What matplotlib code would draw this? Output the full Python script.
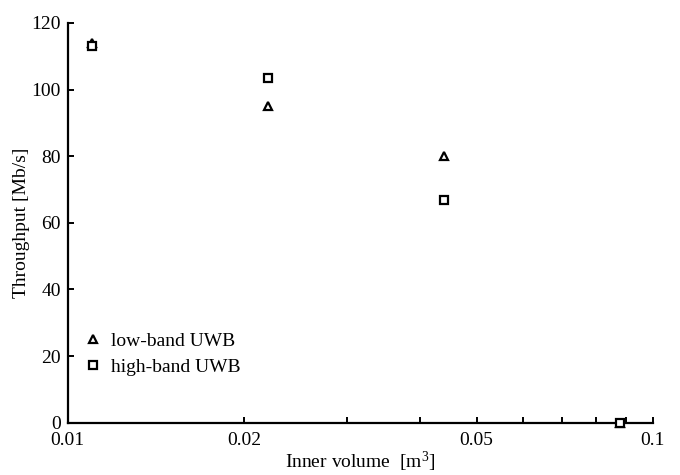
import matplotlib
matplotlib.use("Agg")
import matplotlib.pyplot as plt
from matplotlib.ticker import FixedLocator, FixedFormatter, NullFormatter

plt.rcParams['font.family'] = ['Liberation Serif', 'DejaVu Serif']
plt.rcParams['mathtext.fontset'] = 'custom'
plt.rcParams['mathtext.rm'] = 'Liberation Serif'
plt.rcParams['mathtext.it'] = 'Liberation Serif:italic'

# Measured throughput versus inner volume
volume = [0.011, 0.022, 0.044, 0.088]
low_band = [114, 95, 80, 0]
high_band = [113, 103.5, 67, 0]

x_major = [0.01, 0.02, 0.05, 0.1]
x_major_labels = ['0.01', '0.02', '0.05', '0.1']
x_minor = [0.03, 0.04, 0.06, 0.07, 0.08, 0.09]
y_ticks = [0, 20, 40, 60, 80, 100, 120]

fig = plt.figure(figsize=(6.8, 4.75), dpi=100)
ax = fig.add_axes([0.0996, 0.110, 0.8604, 0.8416])

ax.plot(volume, low_band, linestyle='none', marker='^', markersize=6,
        markerfacecolor='white', markeredgecolor='black', markeredgewidth=1.6,
        label='low-band UWB', clip_on=False, zorder=3)
ax.plot(volume, high_band, linestyle='none', marker='s', markersize=5.5,
        markerfacecolor='white', markeredgecolor='black', markeredgewidth=1.6,
        label='high-band UWB', clip_on=False, zorder=3)

ax.set_xscale('log')
ax.set_xlim(0.01, 0.1)
ax.set_ylim(0, 120)

ax.xaxis.set_major_locator(FixedLocator(x_major))
ax.xaxis.set_major_formatter(FixedFormatter(x_major_labels))
ax.xaxis.set_minor_locator(FixedLocator(x_minor))
ax.xaxis.set_minor_formatter(NullFormatter())
ax.set_yticks(y_ticks)

for side in ('top', 'right'):
    ax.spines[side].set_visible(False)
for side in ('left', 'bottom'):
    ax.spines[side].set_linewidth(1.6)

ax.tick_params(axis='both', which='both', direction='in', length=4, width=1.4,
               labelsize=14, colors='black')
ax.tick_params(axis='x', which='major', pad=7)
ax.tick_params(axis='y', which='major', pad=5)

ax.set_xlabel('Inner volume  [m$^3$]', fontsize=14, labelpad=0)
ax.set_ylabel('Throughput [Mb/s]', fontsize=14, labelpad=1)

ax.legend(loc='lower left', bbox_to_anchor=(0.0, 0.078), frameon=False,
          fontsize=14, handlelength=1.0, handletextpad=0.4,
          labelspacing=0.45, borderaxespad=0.4)

fig.savefig('out.png', dpi=100)
